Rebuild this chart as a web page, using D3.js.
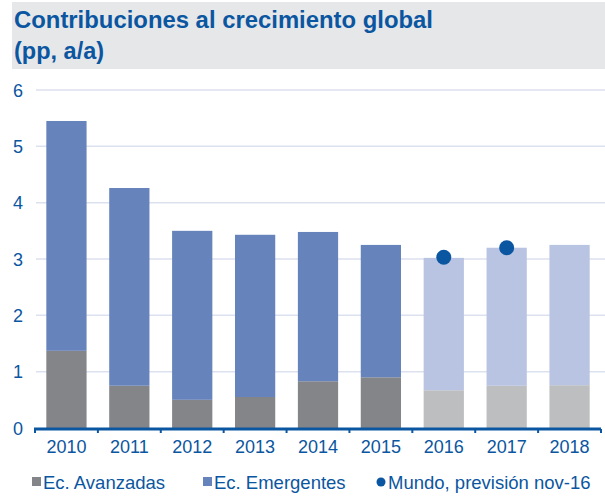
<!DOCTYPE html>
<html>
<head>
<meta charset="utf-8">
<script src="https://cdn.jsdelivr.net/npm/d3@7"></script>
<style>
  body { margin: 0; background: #fff; }
  text { font-family: "Liberation Sans", Arial, sans-serif; }
</style>
</head>
<body>
<div id="chart"></div>
<script>
// data
var years = ["2010", "2011", "2012", "2013", "2014", "2015", "2016", "2017", "2018"];
var avanzadas = [1.37, 0.75, 0.50, 0.55, 0.83, 0.90, 0.67, 0.75, 0.76];
var emergentes = [4.08, 3.51, 3.00, 2.88, 2.65, 2.35, 2.35, 2.45, 2.49];
var mundo = [null, null, null, null, null, null, 3.03, 3.20, null];
var forecastFrom = "2016";
var yTicks = [0, 1, 2, 3, 4, 5, 6];

var width = 605, height = 500;
var blue = "#0b56a0";

var svg = d3.select("#chart")
    .append("svg")
    .attr("width", width)
    .attr("height", height);

// title box
svg.append("rect")
    .attr("x", 12).attr("y", 2)
    .attr("width", 593).attr("height", 67)
    .attr("fill", "#e6e7e9");
svg.append("text")
    .attr("x", 14).attr("y", 28)
    .attr("fill", blue)
    .style("font-size", "23.5px")
    .style("font-weight", "bold")
    .attr("textLength", 419)
    .attr("lengthAdjust", "spacingAndGlyphs")
    .text("Contribuciones al crecimiento global");
svg.append("text")
    .attr("x", 14).attr("y", 59)
    .attr("fill", blue)
    .style("font-size", "23.5px")
    .style("font-weight", "bold")
    .text("(pp, a/a)");

var x = d3.scaleBand()
    .domain(years)
    .range([35, 601])
    .paddingInner(0.36)
    .paddingOuter(0.18);

var y = d3.scaleLinear()
    .domain([0, 6])
    .range([428, 90]);

// gridlines
svg.selectAll("line.grid")
    .data(yTicks.filter(function (d) { return d > 0; }))
    .enter()
    .append("line")
    .attr("class", "grid")
    .attr("x1", 36).attr("x2", 605)
    .attr("y1", function (d) { return y(d); })
    .attr("y2", function (d) { return y(d); })
    .attr("stroke", "#dce1ef")
    .attr("stroke-width", 1.5);

// y labels
svg.selectAll("text.ylab")
    .data(yTicks)
    .enter()
    .append("text")
    .attr("class", "ylab")
    .attr("x", 18)
    .attr("y", function (d) { return y(d) + 6.5; })
    .attr("text-anchor", "middle")
    .attr("fill", blue)
    .style("font-size", "18px")
    .text(function (d) { return d; });

var isForecast = function (yr) { return +yr >= +forecastFrom; };

// advanced economies
svg.selectAll("rect.adv")
    .data(years)
    .enter()
    .append("rect")
    .attr("class", "adv")
    .attr("x", function (d) { return x(d); })
    .attr("width", x.bandwidth())
    .attr("y", function (d, i) { return y(avanzadas[i]); })
    .attr("height", function (d, i) { return y(0) - y(avanzadas[i]); })
    .attr("fill", function (d) { return isForecast(d) ? "#bdbebf" : "#848589"; });

// emerging economies, stacked on top
svg.selectAll("rect.em")
    .data(years)
    .enter()
    .append("rect")
    .attr("class", "em")
    .attr("x", function (d) { return x(d); })
    .attr("width", x.bandwidth())
    .attr("y", function (d, i) { return y(avanzadas[i] + emergentes[i]); })
    .attr("height", function (d, i) { return y(avanzadas[i]) - y(avanzadas[i] + emergentes[i]); })
    .attr("fill", function (d) { return isForecast(d) ? "#b9c4e2" : "#6783bb"; });

// x axis
var xAxis = svg.append("g")
    .attr("transform", "translate(0," + (y(0) + 1) + ")");
xAxis.append("line")
    .attr("x1", 34).attr("x2", 601)
    .attr("stroke", blue)
    .attr("stroke-width", 3);
var step = x.step();
xAxis.selectAll("line.tick")
    .data(d3.range(years.length + 1))
    .enter()
    .append("line")
    .attr("class", "tick")
    .attr("x1", function (i) { return 35 + i * step; })
    .attr("x2", function (i) { return 35 + i * step; })
    .attr("y1", 0).attr("y2", 4)
    .attr("stroke", blue)
    .attr("stroke-width", 2);
xAxis.selectAll("text")
    .data(years)
    .enter()
    .append("text")
    .attr("x", function (d) { return x(d) + x.bandwidth() / 2; })
    .attr("y", 24)
    .attr("text-anchor", "middle")
    .attr("fill", blue)
    .style("font-size", "18px")
    .text(function (d) { return d; });

// world forecast dots
svg.selectAll("circle.mundo")
    .data(years.filter(function (d, i) { return mundo[i] !== null; }))
    .enter()
    .append("circle")
    .attr("class", "mundo")
    .attr("cx", function (d) { return x(d) + x.bandwidth() / 2; })
    .attr("cy", function (d) { return y(mundo[years.indexOf(d)]); })
    .attr("r", 7.5)
    .attr("fill", blue);

// legend
var legend = svg.append("g").attr("transform", "translate(0,489)");
legend.append("rect").attr("x", 32).attr("y", -12).attr("width", 9).attr("height", 9).attr("fill", "#848589");
legend.append("text").attr("x", 43).attr("y", 0).attr("fill", blue).style("font-size", "18.5px").text("Ec. Avanzadas");
legend.append("rect").attr("x", 203).attr("y", -12).attr("width", 9).attr("height", 9).attr("fill", "#6783bb");
legend.append("text").attr("x", 214).attr("y", 0).attr("fill", blue).style("font-size", "18.5px").text("Ec. Emergentes");
legend.append("circle").attr("cx", 381).attr("cy", -7).attr("r", 4.5).attr("fill", blue);
legend.append("text").attr("x", 388).attr("y", 0).attr("fill", blue).style("font-size", "18.5px").text("Mundo, previsión nov-16");
</script>
</body>
</html>
